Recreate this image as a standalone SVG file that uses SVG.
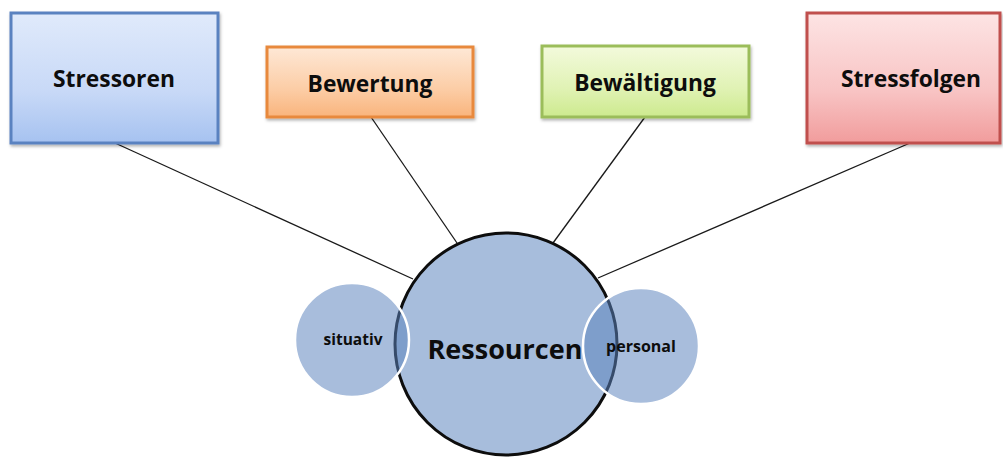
<svg xmlns="http://www.w3.org/2000/svg" width="1003" height="457" viewBox="0 0 1003 457">
  <defs>
    <linearGradient id="gBlue" x1="0" y1="0" x2="0" y2="1">
      <stop offset="0" stop-color="#e0eafb"/>
      <stop offset="0.6" stop-color="#c8d9f7"/>
      <stop offset="1" stop-color="#a6c2f0"/>
    </linearGradient>
    <linearGradient id="gOrange" x1="0" y1="0" x2="0" y2="1">
      <stop offset="0" stop-color="#fee8d6"/>
      <stop offset="0.6" stop-color="#fccda6"/>
      <stop offset="1" stop-color="#f9b47c"/>
    </linearGradient>
    <linearGradient id="gGreen" x1="0" y1="0" x2="0" y2="1">
      <stop offset="0" stop-color="#f3fadc"/>
      <stop offset="0.6" stop-color="#e0f2b4"/>
      <stop offset="1" stop-color="#cdea8e"/>
    </linearGradient>
    <linearGradient id="gRed" x1="0" y1="0" x2="0" y2="1">
      <stop offset="0" stop-color="#fde4e4"/>
      <stop offset="0.6" stop-color="#f8c4c4"/>
      <stop offset="1" stop-color="#f19c9c"/>
    </linearGradient>
    <filter id="shadow" x="-10%" y="-10%" width="120%" height="125%">
      <feDropShadow dx="1" dy="2" stdDeviation="1.5" flood-color="#000" flood-opacity="0.3"/>
    </filter>
  </defs>
  <style>
    .box { stroke-width: 3; filter: url(#shadow); }
    .lbl { font-family: "Open Sans", "Liberation Sans", sans-serif; font-weight: bold; fill: #0d0d0d; text-anchor: middle; dominant-baseline: central; }
    .conn line { stroke: #1a1a1a; stroke-width: 1.3; }
    .small { fill: #5a83bd; fill-opacity: 0.53; stroke: #ffffff; stroke-width: 2.5; }
  </style>

  <rect width="1003" height="457" fill="#ffffff"/>

  <!-- connectors from the four boxes to the resource circle -->
  <g id="connectors" class="conn">
    <line x1="115" y1="143" x2="413" y2="279"/>
    <line x1="371" y1="117" x2="457" y2="243"/>
    <line x1="645" y1="117" x2="553" y2="243"/>
    <line x1="910" y1="143" x2="598" y2="278"/>
  </g>

  <g id="stressoren">
    <rect class="box" x="11" y="13" width="207" height="130" fill="url(#gBlue)" stroke="#5a82c0"/>
    <text class="lbl" x="114" y="78" font-size="22.8">Stressoren</text>
  </g>

  <g id="bewertung">
    <rect class="box" x="267" y="47" width="206" height="70" fill="url(#gOrange)" stroke="#e8893c"/>
    <text class="lbl" x="370" y="83" font-size="22.8">Bewertung</text>
  </g>

  <g id="bewaeltigung">
    <rect class="box" x="542" y="46" width="207" height="71" fill="url(#gGreen)" stroke="#9bbd5a"/>
    <text class="lbl" x="645" y="82" font-size="22.8">Bewältigung</text>
  </g>

  <g id="stressfolgen">
    <rect class="box" x="807" y="13" width="193" height="130" fill="url(#gRed)" stroke="#c0504d"/>
    <text class="lbl" x="911" y="78" font-size="22.8">Stressfolgen</text>
  </g>

  <g id="ressourcen">
    <circle cx="506" cy="344" r="111" fill="#a7bddc" stroke="#0d0d0d" stroke-width="3"/>
    <text class="lbl" x="505" y="348" font-size="27">Ressourcen</text>
  </g>

  <g id="situativ">
    <circle class="small" cx="352" cy="340" r="57"/>
    <text class="lbl" x="353" y="339" font-size="15.5" fill="#1a2030">situativ</text>
  </g>

  <g id="personal">
    <circle class="small" cx="641" cy="346" r="58"/>
    <text class="lbl" x="641" y="346" font-size="16" fill="#1a2030">personal</text>
  </g>
</svg>
